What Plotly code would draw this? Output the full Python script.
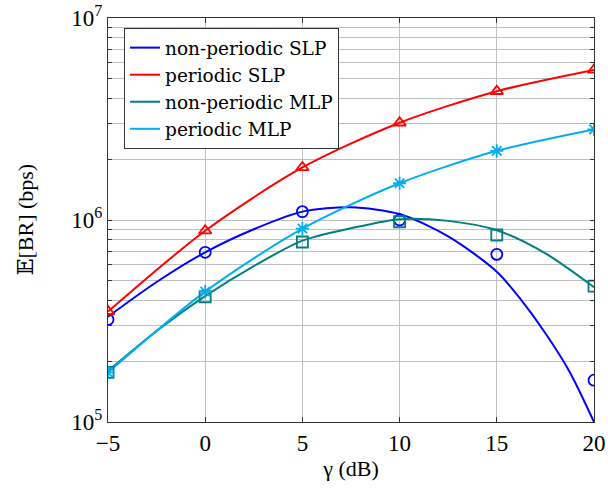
import plotly.graph_objects as go

# SNR (dB) at which the simulated points are reported
gamma_db = [-5, 0, 5, 10, 15, 20]

# Simulated points (markers), bps
np_slp_pts = [3.22e5, 6.92e5, 1.10e6, 1.00e6, 6.76e5, 1.61e5]
p_slp_pts = [3.52e5, 8.85e5, 1.82e6, 3.03e6, 4.34e6, 5.53e6]
np_mlp_pts = [1.76e5, 4.17e5, 7.78e5, 9.80e5, 8.43e5, 4.71e5]
p_mlp_pts = [1.76e5, 4.42e5, 9.06e5, 1.52e6, 2.20e6, 2.81e6]

# Analytical curves (lines)
np_slp_curve_gamma = [-5, -2.5, 0, 2.5, 5, 7.5, 10, 12.5, 15, 16.25, 17.5, 18.75, 20]
np_slp_curve = [3.32e5, 4.93e5, 6.92e5, 9.0e5, 1.10e6, 1.156e6, 1.07e6, 8.3e5, 5.55e5,
                4.02e5, 2.75e5, 1.77e5, 1.0e5]
np_mlp_curve_gamma = [-5, -2.5, 0, 2.5, 5, 7.5, 10, 12.5, 15, 17.5, 20]
np_mlp_curve = [1.79e5, 2.82e5, 4.2e5, 5.91e5, 7.9e5, 9.1e5, 1.01e6, 9.9e5, 8.9e5, 6.84e5, 4.65e5]
p_slp_curve_gamma = gamma_db
p_slp_curve = p_slp_pts
p_mlp_curve_gamma = gamma_db
p_mlp_curve = p_mlp_pts

names = ["non-periodic SLP", "periodic SLP", "non-periodic MLP", "periodic MLP"]
colors = ["#0000FF", "#FF0000", "#008080", "#00AEEF"]
symbols = ["circle-open", "triangle-up-open", "square-open", "asterisk-open"]

curves = [(np_slp_curve_gamma, np_slp_curve), (p_slp_curve_gamma, p_slp_curve),
          (np_mlp_curve_gamma, np_mlp_curve), (p_mlp_curve_gamma, p_mlp_curve)]
points = [np_slp_pts, p_slp_pts, np_mlp_pts, p_mlp_pts]

FONT = "Liberation Serif, DejaVu Serif, serif"
LEGEND_FONT = "DejaVu Serif, serif"

fig = go.Figure()
for name, col, (cx, cy) in zip(names, colors, curves):
    fig.add_trace(go.Scatter(x=cx, y=cy, mode="lines", name=name,
                             line=dict(color=col, width=2, shape="spline", smoothing=0.8)))
for name, col, sym, pts in zip(names, colors, symbols, points):
    fig.add_trace(go.Scatter(x=gamma_db, y=pts, mode="markers", showlegend=False,
                             marker=dict(symbol=sym, color=col, size=11,
                                         line=dict(color=col, width=1.8))))

# y ticks: every 1..9 x decade, label only powers of ten
ytick_vals = []
ytick_text = []
for e in [5, 6]:
    for m in range(1, 10):
        ytick_vals.append(m * 10 ** e)
        ytick_text.append(f"10<sup>{e}</sup>" if m == 1 else "")
ytick_vals.append(1e7)
ytick_text.append("10<sup>7</sup>")

xtick_vals = [-5, 0, 5, 10, 15, 20]
xtick_text = ["\u22125", "0", "5", "10", "15", "20"]

fig.update_layout(
    width=608, height=493,
    margin=dict(l=108, r=14, t=18, b=71),
    paper_bgcolor="white", plot_bgcolor="white",
    font=dict(family=FONT, size=23, color="black"),
    legend=dict(x=0.033, y=0.975, xanchor="left", yanchor="top",
                bgcolor="white", bordercolor="#333333", borderwidth=1,
                font=dict(family=LEGEND_FONT, size=18.5)),
    xaxis=dict(range=[-5, 20], tickvals=xtick_vals, ticktext=xtick_text, automargin=False,
               showgrid=True, gridcolor="#BFBFBF", gridwidth=1,
               showline=True, linecolor="#333333", linewidth=1.2, mirror="ticks",
               ticks="inside", ticklen=5, tickcolor="#333333", zeroline=False,
               title=dict(text="\u03b3 (dB)", font=dict(size=22), standoff=5)),
    yaxis=dict(type="log", range=[5, 7], tickvals=ytick_vals, ticktext=ytick_text, automargin=False,
               showgrid=True, gridcolor="#BFBFBF", gridwidth=1,
               showline=True, linecolor="#333333", linewidth=1.2, mirror="ticks",
               ticks="inside", ticklen=4, tickcolor="#333333", zeroline=False),
    annotations=[dict(text="\U0001D53C[BR] (bps)", textangle=-90, showarrow=False,
                      xref="paper", yref="paper", x=-0.2, y=0.5,
                      xanchor="left", yanchor="middle", font=dict(size=22))],
)

fig.write_html("out.html")
